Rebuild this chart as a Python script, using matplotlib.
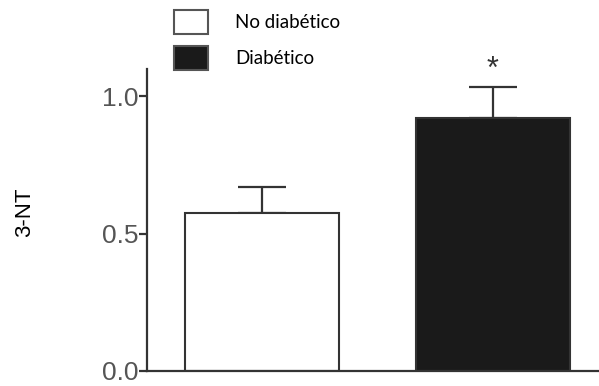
import matplotlib
matplotlib.use('Agg')
import matplotlib.pyplot as plt
from matplotlib.patches import Rectangle

# grupos y valores (media + error)
groups = ['No diabético', 'Diabético']
means = [0.577, 0.92]
errors = [0.095, 0.115]
colors = ['white', '#1a1a1a']
yticks = [0.0, 0.5, 1.0]
ytick_labels = ['0.0', '0.5', '1.0']

fig = plt.figure(figsize=(5.99, 3.86), dpi=100)
ax = fig.add_axes([147/599, 15/386, 452/599, 302/386])

xs = [0, 1]
ax.bar(xs, means, width=0.667, color=colors, edgecolor='#333333', linewidth=1.5, zorder=2)
ax.errorbar(xs, means, yerr=[[0, 0], errors], fmt='none', ecolor='#333333',
            elinewidth=1.6, capsize=17, capthick=1.6, zorder=1)

# asterisco de significancia
ax.text(xs[1], means[1] + errors[1] + 0.06, '*', ha='center', va='center',
        fontsize=22, color='#333333', family='Liberation Sans')

ax.set_xlim(-0.498, 1.459)
ax.set_ylim(0, 1.1)
ax.set_yticks(yticks)
ax.set_yticklabels(ytick_labels, family='Liberation Sans', fontsize=19, color='#555555')
ax.set_xticks([])
for s in ['top', 'right']:
    ax.spines[s].set_visible(False)
for s in ['left', 'bottom']:
    ax.spines[s].set_linewidth(1.6)
    ax.spines[s].set_color('#333333')
ax.tick_params(axis='y', length=6, width=1.6, color='#333333', pad=0)

fig.text(25/599, 1 - 212/386, '3-NT', rotation=90, ha='center', va='center',
         family='Liberation Sans', fontsize=16)

# leyenda
for i, (g, c) in enumerate(zip(groups, colors)):
    y0 = 1 - (34 + i * 36) / 386
    fig.patches.append(Rectangle((174/599, y0), 34/599, 24/386, transform=fig.transFigure,
                                 facecolor=c, edgecolor='#555555', linewidth=1.5))
    fig.text(235/599, y0 + 12/386, g, ha='left', va='center', family='Lato', fontsize=13.5)

fig.savefig('out.png', dpi=100)
